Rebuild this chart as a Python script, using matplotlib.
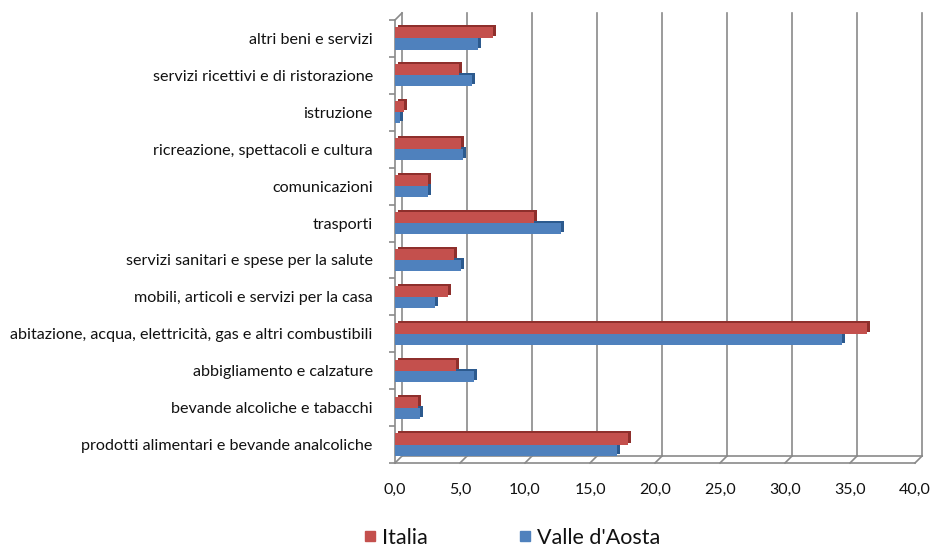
import matplotlib
matplotlib.use('Agg')
import matplotlib.pyplot as plt
import matplotlib.transforms as mtransforms
from matplotlib.lines import Line2D
from matplotlib.ticker import FuncFormatter
import numpy as np

plt.rcParams['font.family'] = ['Lato', 'DejaVu Sans']

# categories listed bottom -> top
categories = [
    'prodotti alimentari e bevande analcoliche',
    'bevande alcoliche e tabacchi',
    'abbigliamento e calzature',
    'abitazione, acqua, elettricità, gas e altri combustibili',
    'mobili, articoli e servizi per la casa',
    'servizi sanitari e spese per la salute',
    'trasporti',
    'comunicazioni',
    'ricreazione, spettacoli e cultura',
    'istruzione',
    'servizi ricettivi e di ristorazione',
    'altri beni e servizi',
]
italia = [17.9, 1.8, 4.7, 36.3, 4.1, 4.5, 10.7, 2.5, 5.1, 0.7, 4.9, 7.5]
valle_aosta = [17.1, 1.9, 6.1, 34.4, 3.1, 5.1, 12.8, 2.5, 5.2, 0.4, 5.9, 6.4]
xticks = [0, 5, 10, 15, 20, 25, 30, 35, 40]

red, red_dark = '#C4504D', '#8E2F2C'
blue, blue_dark = '#4F81BD', '#2C5A8E'
grid_c = '#8a8a8a'

fig = plt.figure(figsize=(9.33, 5.47), dpi=100)
ax = fig.add_axes([395 / 933, 84 / 547, 520 / 933, 443 / 547])
ax.set_xlim(0, 40)
ax.set_ylim(-0.5, len(categories) - 0.5)

y = np.arange(len(categories))
h = 0.3
depth = mtransforms.offset_copy(ax.transData, fig=fig, x=3, y=2, units='dots')

# depth faces first, then front faces
ax.barh(y + h / 2, italia, h, color=red_dark, transform=depth, zorder=3)
ax.barh(y - h / 2, valle_aosta, h, color=blue_dark, transform=depth, zorder=3)
ax.barh(y - h / 2, valle_aosta, h, color=blue, zorder=4)
ax.barh(y + h / 2, italia, h, color=red, zorder=5)

# back wall grid, shifted up-right
dx, dy = 7, 7
back = mtransforms.offset_copy(ax.get_xaxis_transform(), fig=fig, x=dx, y=dy, units='dots')
for v in xticks:
    ax.plot([v, v], [0, 1], color=grid_c, lw=1.2, transform=back, clip_on=False, zorder=1)
    diag = mtransforms.Affine2D() + mtransforms.ScaledTranslation(v, 0, ax.get_xaxis_transform())
    ax.add_line(Line2D([0, dx], [0, dy], color=grid_c, lw=1.2, transform=diag, clip_on=False))
ax.plot([0, 40], [0, 0], color=grid_c, lw=1.2, transform=back, clip_on=False, zorder=1)
top_diag = mtransforms.Affine2D() + mtransforms.ScaledTranslation(0, 1, ax.transAxes)
ax.add_line(Line2D([0, dx], [0, dy], color=grid_c, lw=1.2, transform=top_diag, clip_on=False))

for s in ['top', 'right']:
    ax.spines[s].set_visible(False)
for s in ['left', 'bottom']:
    ax.spines[s].set_color(grid_c)
    ax.spines[s].set_linewidth(1.2)

ax.set_yticks(y)
ax.set_yticklabels(categories, fontsize=11.6, color='#111111')
ax.set_yticks(np.arange(-0.5, len(categories), 1), minor=True)
ax.tick_params(axis='y', which='major', length=0, pad=16)
ax.tick_params(axis='y', which='minor', length=4, color=grid_c, width=1.2)

ax.set_xticks(xticks)
ax.xaxis.set_major_formatter(FuncFormatter(lambda v, p: f'{v:.1f}'.replace('.', ',')))
ax.tick_params(axis='x', length=0, pad=14, labelsize=11.5, labelcolor='#111111')

handles = [Line2D([], [], marker='s', linestyle='', markersize=7.5, color=red),
           Line2D([], [], marker='s', linestyle='', markersize=7.5, color=blue)]
fig.legend(handles, ['Italia', "Valle d'Aosta"], loc='center', ncol=2,
           bbox_to_anchor=(512 / 933, 9 / 547), frameon=False, fontsize=15.5,
           handlelength=0.6, handletextpad=0.25, columnspacing=4.2, labelcolor='#111111')

fig.savefig('out.png', dpi=100)
